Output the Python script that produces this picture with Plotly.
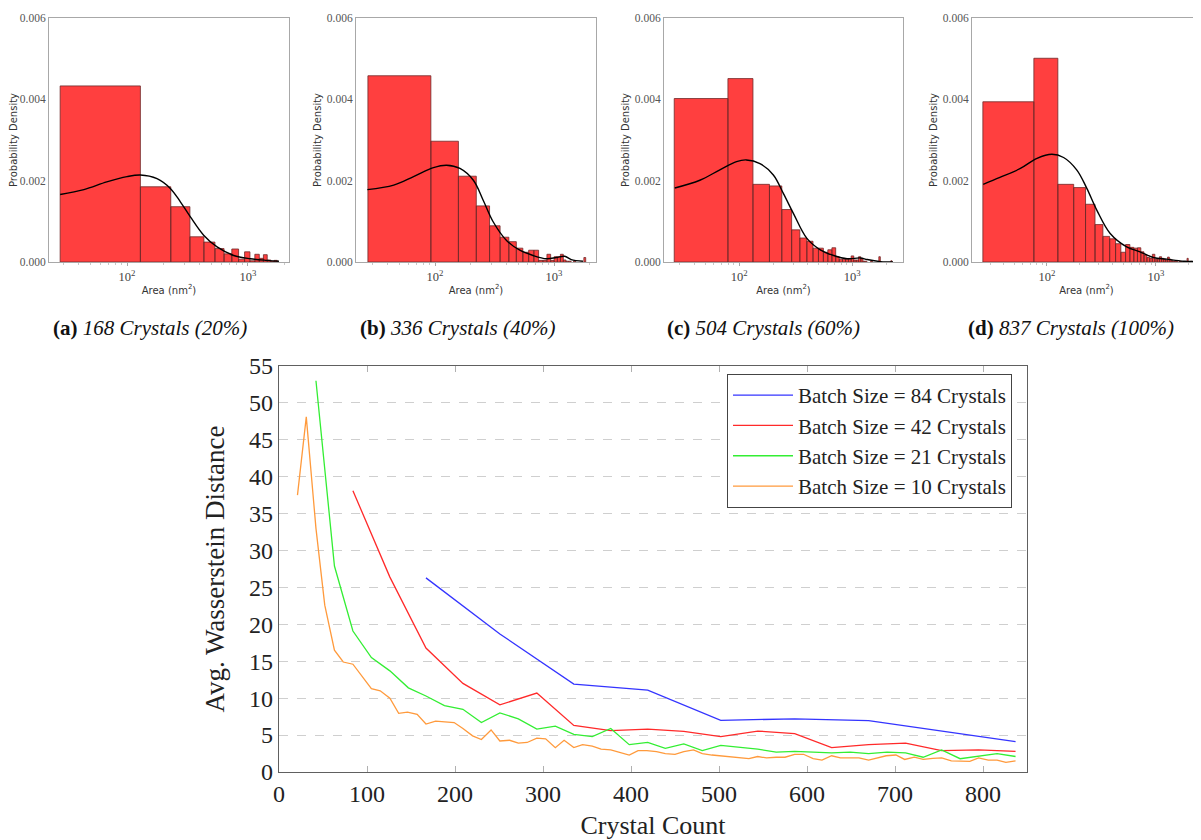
import plotly.graph_objects as go

# ---------------- Histogram panels (linear bins shown on log x) ----------------
a_bin_start, a_bin_width = 28.0, 101.0
a_density = [0.00433, 0.00185, 0.00136, 0.00062, 0.00049, 0.00033, 0.00020, 0.00032,
             0.00007, 0.00025, 0.00003, 0.00019, 0.00009, 0.00018, 0.00005, 0.00002, 0.00004]
a_kde_x = [28, 44, 68, 100, 129, 177, 228, 276, 334, 430, 555, 762, 1045, 1435, 1803]
a_kde_y = [0.00166, 0.00178, 0.00197, 0.00210, 0.00214, 0.00205, 0.00181, 0.00148, 0.00111,
           0.00066, 0.00037, 0.00016, 0.00008, 0.00004, 0.00002]

b_bin_start, b_bin_width = 27.3, 65.0
b_density = [0.00458, 0.00297, 0.00211, 0.00138, 0.00089, 0.00061, 0.00050, 0.00034,
             0.00024, 0.00029, 0.00029, 0.00004, 0.00004, 0.00019, 0.00004, 0.00013,
             0.00013, 0.00019, 0.00005, 0.00002, 0.00002, 0.0, 0.00002, 0.0, 0.0, 0.0,
             0.0, 0.00011]
b_kde_x = [27, 45, 66, 97, 125, 162, 210, 254, 308, 399, 516, 667, 862, 1048, 1229, 1396, 1751]
b_kde_y = [0.00178, 0.00189, 0.00210, 0.00232, 0.00238, 0.00230, 0.00201, 0.00152, 0.00099,
           0.00053, 0.00029, 0.00016, 0.00008, 0.00011, 0.00014, 0.00006, 0.00002]

c_bin_start, c_bin_width = 26.7, 53.0
c_density = [0.00402, 0.00451, 0.00191, 0.00187, 0.00129, 0.00079, 0.00059, 0.00051,
             0.00034, 0.00034, 0.00024, 0.00030, 0.00035, 0.00013, 0.00007, 0.00007,
             0.00007, 0.00007, 0.00015, 0.00005, 0.00005, 0.00013, 0.00008, 0.00002,
             0.00002, 0.0, 0.0, 0.00002, 0.0, 0.0, 0.0, 0.0, 0.00013, 0.0, 0.0, 0.0,
             0.0, 0.0, 0.0, 0.0, 0.0, 0.00003]
c_kde_x = [27, 45, 67, 95, 116, 153, 201, 247, 303, 398, 523, 687, 902, 1186, 1360, 1786, 2300]
c_kde_y = [0.00182, 0.00201, 0.00226, 0.00247, 0.00251, 0.00242, 0.00214, 0.00168, 0.00119,
           0.00058, 0.00030, 0.00016, 0.00008, 0.00010, 0.00006, 0.00001, 0.0]

d_bin_start, d_bin_width = 25.8, 50.0
d_density = [0.00394, 0.00501, 0.00191, 0.00183, 0.00142, 0.00092, 0.00063, 0.00057,
             0.00045, 0.00024, 0.00043, 0.00036, 0.00034, 0.00035, 0.00025, 0.00017,
             0.00011, 0.00009, 0.00019, 0.00007, 0.00007, 0.00013, 0.00009, 0.00007,
             0.00005, 0.00012, 0.00007, 0.00004, 0.00002, 0.00002, 0.00002, 0.0,
             0.00002, 0.00002, 0.0, 0.0, 0.00002, 0.0, 0.00009, 0.0, 0.0, 0.00002,
             0.0, 0.0, 0.00002, 0.0, 0.0, 0.0, 0.00002, 0.0]
d_kde_x = [26, 37, 57, 81, 111, 142, 188, 232, 287, 380, 539, 714, 947, 1254, 1779, 2523]
d_kde_y = [0.00191, 0.00208, 0.00230, 0.00255, 0.00265, 0.00257, 0.00226, 0.00181, 0.00127,
           0.00070, 0.00037, 0.00025, 0.00011, 0.00007, 0.00002, 0.00001]

captions = ["<b>(a)</b> <i>168 Crystals (20%)</i>", "<b>(b)</b> <i>336 Crystals (40%)</i>",
            "<b>(c)</b> <i>504 Crystals (60%)</i>", "<b>(d)</b> <i>837 Crystals (100%)</i>"]

# ---------------- Convergence line chart ----------------
x84 = [167, 251, 335, 419, 502, 586, 670, 753, 837]
y84 = [26.3, 18.7, 11.9, 11.1, 7.0, 7.2, 6.95, 5.5, 4.1]

x42 = [84, 126, 167, 209, 251, 293, 335, 377, 419, 460, 502, 544, 586, 628, 670,
       712, 753, 795, 837]
y42 = [38.1, 26.4, 16.8, 12.0, 9.1, 10.7, 6.3, 5.6, 5.8, 5.5, 4.8, 5.55, 5.2, 3.3,
       3.7, 3.9, 2.9, 3.0, 2.8]

x21 = [42, 63, 84, 105, 126, 147, 167, 188, 209, 230, 251, 272, 293, 314, 335, 356,
       377, 398, 419, 439, 460, 481, 502, 523, 544, 565, 586, 607, 628, 649, 670, 691,
       712, 732, 753, 774, 795, 816, 837]
y21 = [53.0, 27.9, 19.1, 15.5, 13.7, 11.4, 10.3, 9.0, 8.5, 6.7, 8.0, 7.2, 5.8, 6.2,
       5.1, 4.8, 5.9, 3.7, 4.0, 3.2, 3.8, 2.9, 3.6, 3.4, 3.1, 2.7, 2.8, 2.7, 2.6, 2.7,
       2.5, 2.7, 2.6, 2.0, 3.0, 1.8, 2.1, 2.5, 2.1]

x10 = [21, 31, 42, 52, 63, 73, 84, 94, 105, 115, 126, 136, 146, 157, 167, 178, 188,
       199, 209, 220, 230, 241, 251, 262, 272, 282, 293, 303, 314, 324, 335, 345, 356,
       366, 377, 387, 398, 408, 418, 429, 439, 450, 460, 471, 481, 492, 502, 513, 523,
       534, 544, 554, 565, 575, 586, 596, 607, 617, 628, 638, 649, 659, 670, 680, 690,
       701, 711, 722, 732, 743, 753, 764, 774, 785, 795, 806, 816, 826, 837]
y10 = [37.5, 48.1, 33.0, 22.6, 16.5, 14.9, 14.6, 13.1, 11.3, 11.0, 10.0, 7.95, 8.1,
       7.8, 6.5, 6.9, 6.8, 6.7, 5.9, 4.9, 4.4, 5.7, 4.2, 4.3, 3.9, 4.0, 4.6, 4.5, 3.3,
       4.3, 3.3, 3.7, 3.5, 3.1, 3.0, 2.7, 2.3, 2.9, 2.9, 2.75, 2.5, 2.4, 2.75, 3.0,
       2.5, 2.3, 2.2, 2.0, 1.9, 1.8, 2.1, 1.9, 2.0, 2.0, 2.4, 2.4, 1.8, 1.6, 2.2, 1.9,
       1.9, 1.9, 1.6, 1.9, 2.2, 2.3, 1.7, 2.0, 1.7, 1.85, 1.9, 1.5, 1.45, 1.45, 1.9,
       1.6, 1.6, 1.3, 1.5]

series = [("Batch Size = 84 Crystals", x84, y84, "#3434ff"),
          ("Batch Size = 42 Crystals", x42, y42, "#ff2a2a"),
          ("Batch Size = 21 Crystals", x21, y21, "#33ee33"),
          ("Batch Size = 10 Crystals", x10, y10, "#ff9a3c")]

# page has an 8px body margin; figure is sized to fit the window exactly
OFF = 8
W, H = 1201 - OFF, 840 - OFF


def px_x(p):
    return (p - OFF) / W


def px_y(p):
    return 1 - (p - OFF) / H


def bar_outline(start, width, heights):
    xs, ys = [], []
    for i, h in enumerate(heights):
        if h <= 0:
            continue
        x0 = start + i * width
        x1 = x0 + width
        xs += [x0, x0, x1, x1, x0, None]
        ys += [0, h, h, 0, 0, None]
    return xs, ys


fig = go.Figure()

hist_panels = [
    (a_bin_start, a_bin_width, a_density, a_kde_x, a_kde_y, (49, 289), (1.355, 3.339)),
    (b_bin_start, b_bin_width, b_density, b_kde_x, b_kde_y, (356, 596), (1.336, 3.353)),
    (c_bin_start, c_bin_width, c_density, c_kde_x, c_kde_y, (664, 903), (1.336, 3.450)),
    (d_bin_start, d_bin_width, d_density, d_kde_x, d_kde_y, (972, 1201), (1.312, 3.413)),
]
caption_x = [150, 457, 763, 1071]

SERIF = "Liberation Serif"
SANS = "DejaVu Sans"

minor_vals = [20, 30, 40, 50, 60, 70, 80, 90, 200, 300, 400, 500, 600, 700, 800, 900,
              2000, 3000]

layout = dict(
    width=W, height=H, margin=dict(l=0, r=0, t=0, b=0),
    paper_bgcolor="white", plot_bgcolor="white", showlegend=True,
)

for i, (bs, bw, dens, kx, ky, (l, r), xr) in enumerate(hist_panels):
    n = i + 1
    xa = "x" if n == 1 else f"x{n}"
    ya = "y" if n == 1 else f"y{n}"
    bx, by = bar_outline(bs, bw, dens)
    fig.add_trace(go.Scatter(x=bx, y=by, mode="lines", fill="toself",
                             fillcolor="#ff3f3f", line=dict(color="#6e2a2a", width=0.8),
                             xaxis=xa, yaxis=ya, showlegend=False, hoverinfo="skip"))
    fig.add_trace(go.Scatter(x=kx, y=ky, mode="lines", line=dict(color="black", width=1.4,
                             shape="spline", smoothing=1.0),
                             xaxis=xa, yaxis=ya, showlegend=False, hoverinfo="skip"))
    key_x = "xaxis" if n == 1 else f"xaxis{n}"
    key_y = "yaxis" if n == 1 else f"yaxis{n}"
    layout[key_x] = dict(
        type="log", range=list(xr), domain=[px_x(l), min(1.0, px_x(r))], anchor=ya,
        showline=True, linecolor="#a8a8a8", linewidth=1, mirror=True,
        tickvals=[100, 1000], ticktext=["10<sup>2</sup>", "10<sup>3</sup>"],
        ticks="outside", ticklen=3, tickcolor="#a8a8a8",
        minor=dict(tickvals=minor_vals, ticks="outside", ticklen=2, tickcolor="#c8c8c8",
                   showgrid=False),
        tickfont=dict(family=SERIF, size=12.5, color="#444"),
        title=dict(text="Area (nm<sup>2</sup>)", font=dict(family=SANS, size=10, color="#333"),
                   standoff=3),
        showgrid=False, zeroline=False, automargin=False,
    )
    layout[key_y] = dict(
        range=[0, 0.006], domain=[px_y(262), px_y(18)], anchor=xa,
        showline=True, linecolor="#a8a8a8", linewidth=1, mirror=True,
        tickvals=[0, 0.002, 0.004, 0.006], ticktext=["0.000", "0.002", "0.004", "0.006"],
        ticks="", tickfont=dict(family=SERIF, size=11.5, color="#555"),
        title=dict(text="Probability Density", font=dict(family=SANS, size=10, color="#333"),
                   standoff=3),
        showgrid=False, zeroline=False, automargin=False,
    )

# line chart
for name, xs, ys, col in series:
    fig.add_trace(go.Scatter(x=xs, y=ys, mode="lines", name=name,
                             line=dict(color=col, width=1.3),
                             xaxis="x5", yaxis="y5", legendgroup=name))

layout["xaxis5"] = dict(
    range=[0, 850], domain=[px_x(279), px_x(1027)], anchor="y5",
    showline=True, linecolor="#606060", linewidth=1.2, mirror="ticks",
    tickvals=[0, 100, 200, 300, 400, 500, 600, 700, 800],
    ticks="inside", ticklen=6, tickcolor="#b0b0b0",
    tickfont=dict(family=SERIF, size=24, color="#222"),
    title=dict(text="Crystal Count", font=dict(family=SERIF, size=26, color="#222"), standoff=12),
    showgrid=False, zeroline=False, automargin=False,
)
layout["yaxis5"] = dict(
    range=[0, 55], domain=[px_y(772), px_y(366)], anchor="x5",
    showline=True, linecolor="#606060", linewidth=1.2, mirror=True,
    tickvals=list(range(0, 56, 5)), ticks="",
    tickfont=dict(family=SERIF, size=24, color="#222"),
    title=dict(text="Avg. Wasserstein Distance", font=dict(family=SERIF, size=27, color="#222"),
               standoff=16),
    showgrid=True, gridcolor="#cfcfcf", griddash="dash", gridwidth=1,
    zeroline=False, automargin=False,
)

layout["legend"] = dict(
    x=px_x(1012), y=px_y(374), xanchor="right", yanchor="top",
    bordercolor="#444", borderwidth=1, bgcolor="white",
    font=dict(family=SERIF, size=21, color="#222"),
    tracegroupgap=0, traceorder="normal", itemwidth=60,
)

annotations = []
for cx, text in zip(caption_x, captions):
    annotations.append(dict(x=px_x(cx), y=px_y(328), xref="paper", yref="paper",
                            text=text, showarrow=False, xanchor="center", yanchor="middle",
                            font=dict(family=SERIF, size=21, color="#111")))
layout["annotations"] = annotations

fig.update_layout(**layout)
fig.write_html("out.html")
